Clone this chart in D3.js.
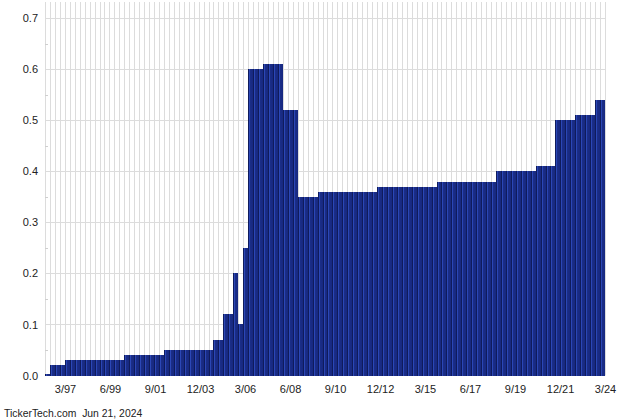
<!DOCTYPE html>
<html>
<head>
<meta charset="utf-8">
<script src="https://cdn.jsdelivr.net/npm/d3@7"></script>
<style>
  html, body { margin: 0; padding: 0; background: #fff; }
  svg { display: block; font-family: "Liberation Sans", Arial, sans-serif; }
</style>
</head>
<body>
<svg id="chart" width="640" height="420"></svg>
<script>
// Quarterly dividend values, one per quarter slot (first slot starts at 3/96)
const values = [
  0.002,
  0.02, 0.02, 0.02,
  0.03, 0.03, 0.03, 0.03, 0.03, 0.03, 0.03, 0.03, 0.03, 0.03, 0.03, 0.03,
  0.04, 0.04, 0.04, 0.04, 0.04, 0.04, 0.04, 0.04,
  0.05, 0.05, 0.05, 0.05, 0.05, 0.05, 0.05, 0.05, 0.05, 0.05,
  0.07, 0.07,
  0.12, 0.12,
  0.20,
  0.10,
  0.25,
  0.60, 0.60, 0.60,
  0.61, 0.61, 0.61, 0.61,
  0.52, 0.52, 0.52,
  0.35, 0.35, 0.35, 0.35,
  0.36, 0.36, 0.36, 0.36, 0.36, 0.36, 0.36, 0.36, 0.36, 0.36, 0.36, 0.36,
  0.37, 0.37, 0.37, 0.37, 0.37, 0.37, 0.37, 0.37, 0.37, 0.37, 0.37, 0.37,
  0.38, 0.38, 0.38, 0.38, 0.38, 0.38, 0.38, 0.38, 0.38, 0.38, 0.38, 0.38,
  0.40, 0.40, 0.40, 0.40, 0.40, 0.40, 0.40, 0.40,
  0.41, 0.41, 0.41, 0.41,
  0.50, 0.50, 0.50, 0.50,
  0.51, 0.51, 0.51, 0.51,
  0.54, 0.54
];
const xTickLabels = ["3/97", "6/99", "9/01", "12/03", "3/06", "6/08", "9/10",
                     "12/12", "3/15", "6/17", "9/19", "12/21", "3/24"];
const yTicks = [0.0, 0.1, 0.2, 0.3, 0.4, 0.5, 0.6, 0.7];
const yMinorTicks = [0.05, 0.15, 0.25, 0.35, 0.45, 0.55, 0.65];
const axisStart = "3/96";
const axisEnd = "3/24";
const footer = "TickerTech.com  Jun 21, 2024";

const svg = d3.select("#chart");
const plotLeft = 45, plotRight = 605, plotTop = 2, baseY = 375.5, topY = 18.3;

const parseQ = s => { const [m, yy] = s.split("/").map(Number); return new Date(yy < 50 ? 2000 + yy : 1900 + yy, m - 1, 1); };

const x = d3.scaleBand().domain(d3.range(values.length)).range([plotLeft, plotRight]).padding(0);
const xt = d3.scaleTime().domain([parseQ(axisStart), parseQ(axisEnd)]).range([plotLeft, plotRight]);
const y = d3.scaleLinear().domain([0, 0.7]).range([baseY, topY]);

// gradient for bars
const defs = svg.append("defs");
const grad = defs.append("linearGradient").attr("id", "barGrad")
  .attr("x1", "0%").attr("x2", "100%").attr("y1", "0%").attr("y2", "0%");
[["0%", "#0f1b5c"], ["19%", "#0f1b5c"], ["20%", "#2c49ba"], ["40%", "#2a45b2"],
 ["41%", "#1b2e88"], ["100%", "#172880"]].forEach(([o, c]) =>
  grad.append("stop").attr("offset", o).attr("stop-color", c));

// vertical gridlines at quarter boundaries
const vlines = d3.range(values.length + 1).map(i => i < values.length ? x(i) : plotRight);
svg.append("g").selectAll("line").data(vlines).join("line")
  .attr("x1", d => Math.round(d) + 0.5).attr("x2", d => Math.round(d) + 0.5)
  .attr("y1", plotTop).attr("y2", baseY)
  .attr("stroke", "#dcdcdc").attr("stroke-width", 1);

// horizontal gridlines
svg.append("g").selectAll("line").data(yTicks.filter(d => d > 0)).join("line")
  .attr("x1", plotLeft).attr("x2", plotRight)
  .attr("y1", d => Math.round(y(d)) + 0.5).attr("y2", d => Math.round(y(d)) + 0.5)
  .attr("stroke", "#dcdcdc").attr("stroke-width", 1);

// minor ticks
svg.append("g").selectAll("line").data(yMinorTicks).join("line")
  .attr("x1", plotLeft).attr("x2", plotLeft + 3)
  .attr("y1", d => Math.round(y(d)) + 0.5).attr("y2", d => Math.round(y(d)) + 0.5)
  .attr("stroke", "#cfcfcf").attr("stroke-width", 1);

// bars
svg.append("g").attr("shape-rendering", "crispEdges").selectAll("rect")
  .data(values).join("rect")
  .attr("x", (d, i) => Math.round(x(i)))
  .attr("width", (d, i) => Math.round(x(i) + x.bandwidth()) - Math.round(x(i)))
  .attr("y", d => Math.round(y(d)))
  .attr("height", d => Math.max(1, Math.round(baseY + 0.5) - Math.round(y(d))))
  .attr("fill", "url(#barGrad)");

// y axis labels
const yAxis = d3.axisLeft(y).tickValues(yTicks).tickFormat(d3.format(".1f")).tickSize(0).tickPadding(0);
const gy = svg.append("g").attr("transform", "translate(38,0)").call(yAxis);
gy.select(".domain").remove();
gy.selectAll("text").attr("font-size", 11).attr("fill", "#222")
  .attr("font-family", "'Liberation Sans', Arial, sans-serif");

// x axis labels
const xAxis = d3.axisBottom(xt).tickValues(xTickLabels.map(parseQ))
  .tickFormat((d, i) => xTickLabels[i]).tickSize(0).tickPadding(0);
const gx = svg.append("g").attr("transform", "translate(0,385)").call(xAxis);
gx.select(".domain").remove();
gx.selectAll("text").attr("font-size", 11).attr("fill", "#222")
  .attr("font-family", "'Liberation Sans', Arial, sans-serif");

// footer
svg.append("text").attr("x", 4).attr("y", 417)
  .attr("font-size", 10.4).attr("fill", "#222")
  .style("white-space", "pre")
  .text(footer);
</script>
</body>
</html>
